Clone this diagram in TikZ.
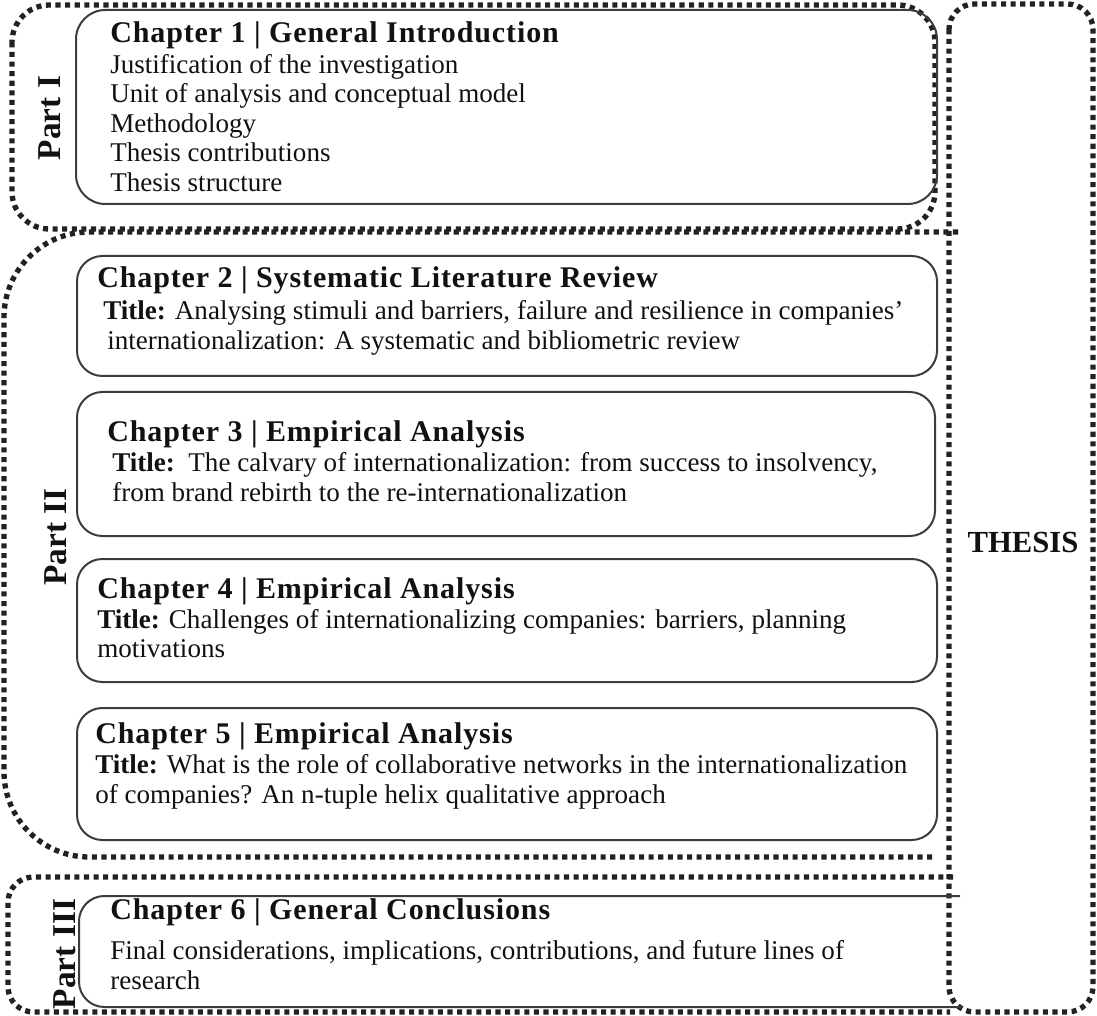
\documentclass[tikz,border=0pt]{standalone}
\usepackage{fontspec}
\setmainfont{Liberation Serif}
\newfontfamily\headfont[LetterSpace=3]{Liberation Serif}
\usetikzlibrary{fit}
\definecolor{boxgray}{HTML}{3C3C3C}
\definecolor{dotblack}{HTML}{222222}
\definecolor{txt}{HTML}{111111}
\tikzset{
  chbox/.style={draw=boxgray, line width=1.5pt, rounded corners=19pt, inner sep=0pt},
  chline/.style={draw=boxgray, line width=1.5pt, rounded corners=19pt},
  dotframe/.style={draw=dotblack, line width=4pt, dash pattern=on 3.8pt off 3.4pt},
  head/.style={anchor=base west, inner sep=0pt, text=txt, font=\headfont\bfseries\fontsize{22.5}{24}\selectfont},
  body/.style={anchor=base west, inner sep=0pt, text=txt, font=\fontsize{20.3}{22}\selectfont},
  partlbl/.style={rotate=90, inner sep=0pt, text=txt, font=\bfseries\fontsize{25}{26}\selectfont},
}
\begin{document}
\begin{tikzpicture}[x=0.75pt,y=-0.75pt]
\useasboundingbox (0,0) rectangle (1097,1016);
% dotted frames
\draw[dotframe, rounded corners=28pt] (12,5) rectangle (935,229);
\draw[dotframe, rounded corners=64pt] (958,232) -- (4,232) -- (4,857) -- (932,857);
\draw[dotframe, rounded corners=19pt] (953,877) -- (8,877) -- (8,1012) -- (950,1012);
\draw[dotframe, rounded corners=19pt] (949,4) rectangle (1093,1012);
% chapter boxes
\node[chbox, rounded corners=22pt, fit={(76,10) (937,204)}] (ch1) {};
\node[chbox, fit={(77,256) (937,376)}] (ch2) {};
\node[chbox, fit={(77,392) (935,536)}] (ch3) {};
\node[chbox, fit={(77,559) (937,682)}] (ch4) {};
\node[chbox, fit={(77,708) (937,840)}] (ch5) {};
\draw[chline] (960,896) -- (79,896) -- (79,1007) -- (962,1007);
% part labels
\node[partlbl] (p1) at (50,118) {Part I};
\node[partlbl] (p2) at (56,537) {Part II};
\node[partlbl] (p3) at (65,954) {Part III};
\node[anchor=base, inner sep=0pt, text=txt, font=\bfseries\fontsize{23}{24}\selectfont] (thesis) at (1023,552) {THESIS};
% chapter 1
\node[head] (c1h) at (110,43) {Chapter 1 | General Introduction};
\node[body] (c1a) at (110,73.5) {Justification of the investigation};
\node[body] (c1b) at (110,103) {Unit of analysis and conceptual model};
\node[body] (c1c) at (110,132.5) {Methodology};
\node[body] (c1d) at (110,162) {Thesis contributions};
\node[body] (c1e) at (110,191.5) {Thesis structure};
% chapter 2
\node[head] (c2h) at (97,288) {Chapter 2 | Systematic Literature Review};
\node[body] (c2a) at (103,320) {\textbf{Title:} Analysing stimuli and barriers, failure and resilience in companies’};
\node[body] (c2b) at (107,350) {internationalization: A systematic and bibliometric review};
% chapter 3
\node[head] (c3h) at (107,441) {Chapter 3 | Empirical Analysis};
\node[body] (c3a) at (112,472) {\textbf{Title:}\ \ The calvary of internationalization: from success to insolvency,};
\node[body] (c3b) at (112,502) {from brand rebirth to the re-internationalization};
% chapter 4
\node[head] (c4h) at (97,598) {Chapter 4 | Empirical Analysis};
\node[body] (c4a) at (97,628) {\textbf{Title:} Challenges of internationalizing companies: barriers, planning};
\node[body] (c4b) at (97,657) {motivations};
% chapter 5
\node[head] (c5h) at (95,743) {Chapter 5 | Empirical Analysis};
\node[body] (c5a) at (95,773) {\textbf{Title:} What is the role of collaborative networks in the internationalization};
\node[body] (c5b) at (95,803) {of companies? An n-tuple helix qualitative approach};
% chapter 6
\node[head] (c6h) at (110,919) {Chapter 6 | General Conclusions};
\node[body] (c6a) at (110,959) {Final considerations, implications, contributions, and future lines of};
\node[body] (c6b) at (110,989) {research};
\end{tikzpicture}
\end{document}
